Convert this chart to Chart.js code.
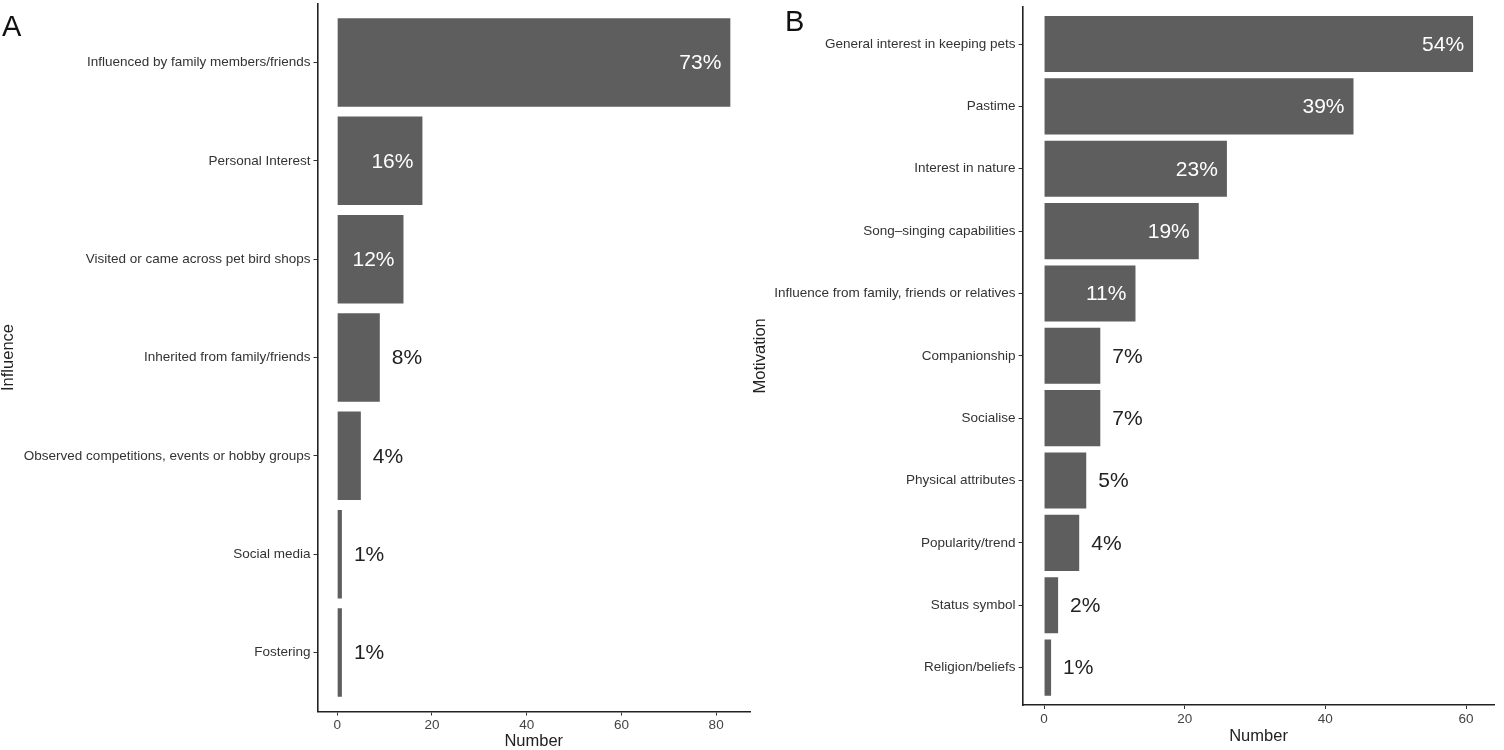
<!DOCTYPE html>
<html>
<head>
<meta charset="utf-8">
<script src="https://cdn.jsdelivr.net/npm/chart.js@4.4.1/dist/chart.umd.min.js"></script>
<style>
  body { margin: 0; background: #fff; width: 1504px; height: 750px; position: relative; overflow: hidden;
         font-family: "Liberation Sans", Arial, sans-serif; }
  .panel { position: absolute; top: 0; height: 750px; }
  #wrapA { left: 0; width: 752px; }
  #wrapB { left: 752px; width: 752px; }
  .tag { position: absolute; font-size: 29px; color: #111; line-height: 1; }
</style>
</head>
<body>
<div class="panel" id="wrapA"><canvas id="chartA"></canvas></div>
<div class="panel" id="wrapB"><canvas id="chartB"></canvas></div>
<div class="tag" style="left:2px;top:12px">A</div>
<div class="tag" style="left:785px;top:7px">B</div>
<script>
// Panel A - influence
const influenceCats = ['Influenced by family members/friends', 'Personal Interest', 'Visited or came across pet bird shops',
  'Inherited from family/friends', 'Observed competitions, events or hobby groups', 'Social media', 'Fostering'];
const influenceVals = [83, 18, 14, 9, 5, 1, 1];
const influencePct = ['73%', '16%', '12%', '8%', '4%', '1%', '1%'];
const influenceTicks = [0, 20, 40, 60, 80];

// Panel B - motivation
const motivationCats = ['General interest in keeping pets', 'Pastime', 'Interest in nature', 'Song\u2013singing capabilities',
  'Influence from family, friends or relatives', 'Companionship', 'Socialise', 'Physical attributes',
  'Popularity/trend', 'Status symbol', 'Religion/beliefs'];
const motivationVals = [61, 44, 26, 22, 13, 8, 8, 6, 5, 2, 1];
const motivationPct = ['54%', '39%', '23%', '19%', '11%', '7%', '7%', '5%', '4%', '2%', '1%'];
const motivationTicks = [0, 20, 40, 60];

const FONT = '"Liberation Sans", Arial, sans-serif';

// percentage text: white inside big bars, dark outside small ones
const pctLabels = {
  id: 'pctLabels',
  afterDatasetsDraw(chart, args, opts) {
    const ctx = chart.ctx;
    const meta = chart.getDatasetMeta(0);
    const vals = chart.data.datasets[0].data;
    ctx.save();
    ctx.font = '21px ' + FONT;
    ctx.textBaseline = 'middle';
    meta.data.forEach((bar, i) => {
      if (vals[i].x >= 10) {
        ctx.fillStyle = '#fff';
        ctx.textAlign = 'right';
        ctx.fillText(opts.labels[i], bar.x - 9, bar.y + 1);
      } else {
        ctx.fillStyle = '#222';
        ctx.textAlign = 'left';
        ctx.fillText(opts.labels[i], bar.x + 12, bar.y + 1);
      }
    });
    ctx.restore();
  }
};

function makeChart(id, cats, vals, pcts, ticks, title, cfg) {
  const n = cats.length;
  const xmax = Math.max(...vals);
  return new Chart(document.getElementById(id), {
    type: 'bar',
    data: {
      datasets: [{
        data: vals.map((v, i) => ({ x: v, y: i })),
        backgroundColor: '#5e5e5e',
        borderWidth: 0,
        barPercentage: 0.9,
        categoryPercentage: 1
      }]
    },
    plugins: [pctLabels],
    options: {
      indexAxis: 'y',
      responsive: true,
      maintainAspectRatio: false,
      animation: false,
      layout: { padding: { top: cfg.top, right: cfg.right, left: 0, bottom: 0 } },
      plugins: {
        legend: { display: false },
        tooltip: { enabled: false },
        pctLabels: { labels: pcts }
      },
      scales: {
        x: {
          type: 'linear',
          min: -xmax * 0.05,
          max: xmax * 1.05,
          afterBuildTicks: s => { s.ticks = ticks.map(v => ({ value: v })); },
          afterFit: s => { s.height = cfg.xh; s.paddingLeft = 0; s.paddingRight = 0; },
          grid: { display: true, drawOnChartArea: false, drawTicks: true, tickLength: 4, color: '#333', lineWidth: 1 },
          border: { display: true, color: '#222', width: 1.6 },
          ticks: { color: '#444', font: { family: FONT, size: 13.5 }, padding: 2, callback: v => v },
          title: { display: true, text: 'Number', color: '#222', font: { family: FONT, size: 16.5, lineHeight: 1 },
                   padding: { top: 0, bottom: cfg.titlePad } }
        },
        y: {
          type: 'linear',
          reverse: true,
          offset: false,
          min: -0.6,
          max: n - 0.4,
          afterBuildTicks: s => { s.ticks = cats.map((c, i) => ({ value: i })); },
          afterFit: s => { s.width = cfg.yw; s.paddingTop = 0; s.paddingBottom = 0; },
          grid: { display: true, offset: false, drawOnChartArea: false, drawTicks: true, tickLength: 4, color: '#333', lineWidth: 1 },
          border: { display: true, color: '#222', width: 1.6 },
          ticks: { color: '#333', font: { family: FONT, size: 13.5 }, padding: 3, autoSkip: false,
                   callback: v => cats[v] },
          title: { display: true, text: title, color: '#222', font: { family: FONT, size: 16.5, lineHeight: 1 },
                   padding: { top: cfg.ytitlePad, bottom: 0 } }
        }
      }
    }
  });
}

makeChart('chartA', influenceCats, influenceVals, influencePct, influenceTicks, 'Influence',
  { top: 3.5, right: 2, xh: 38.5, yw: 317.5, titlePad: 0, ytitlePad: 0 });
makeChart('chartB', motivationCats, motivationVals, motivationPct, motivationTicks, 'Motivation',
  { top: 6.6, right: 9.5, xh: 45, yw: 270.6, titlePad: 5.5, ytitlePad: 0 });
</script>
</body>
</html>
